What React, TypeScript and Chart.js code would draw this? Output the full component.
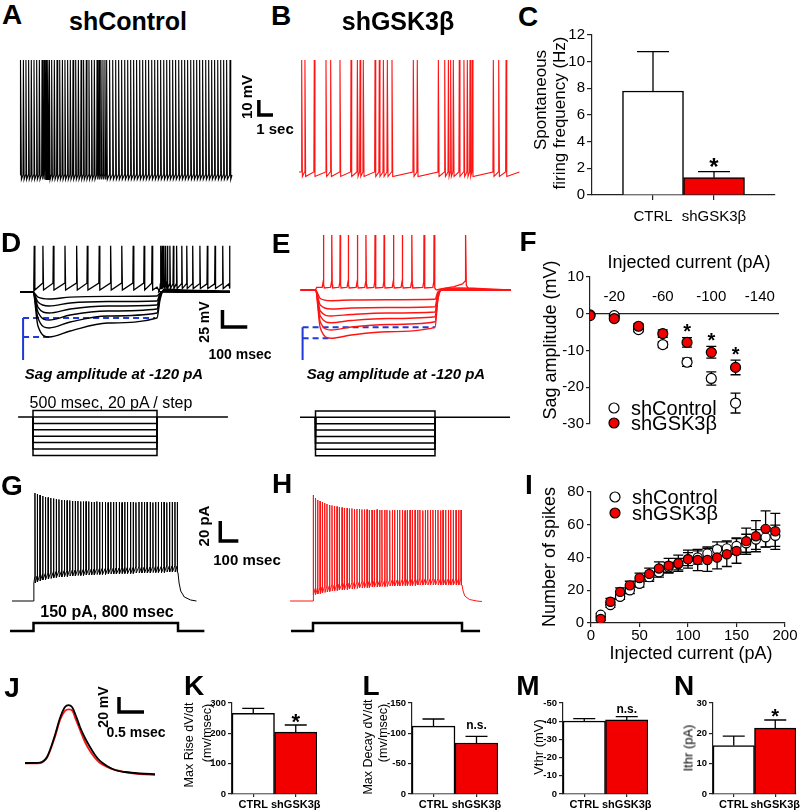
import React, { useEffect, useRef } from 'react';
import { Chart, registerables } from 'chart.js';
Chart.register(...registerables);

const FONT = 'Arial, "Liberation Sans", Helvetica, sans-serif';
Chart.defaults.font.family = FONT;
Chart.defaults.color = '#000';

// ================= DATA =================
const CATS = ['CTRL', 'shGSK3β'];
// C: spontaneous firing frequency (Hz)
const C_VALS = [7.8, 1.3];
const C_ERR = [2.95, 0.45];
// K-N: AP properties
const K_VALS = [266, 204]; const K_ERR = [16.5, 23.5];
const L_VALS = [-112, -84]; const L_ERR = [11.6, 10.9];
const M_VALS = [-40.1, -40.7]; const M_ERR = [1.3, 1.8];
const N_VALS = [16, 21.7]; const N_ERR = [3.1, 2.7];
// F: sag amplitude vs injected current
const F_X = [0, -20, -40, -60, -80, -100, -120];
const F_CTRL = [-0.3, -0.5, -4.3, -8.4, -13.2, -17.6, -24.3];
const F_CTRL_ERR = [null, 0.5, 0.6, 0.8, 1.1, 1.8, 2.7];
const F_GSK = [-0.5, -1.3, -3.4, -5.4, -7.8, -10.5, -14.6];
const F_GSK_ERR = [null, 0.5, 0.7, 1.0, 1.3, 1.6, 2.0];
const F_SIG = [-80, -100, -120];
const F_TICKS = [-20, -60, -100, -140];
// I: number of spikes vs injected current
const I_X = [10, 20, 30, 40, 50, 60, 70, 80, 90, 100, 110, 120, 130, 140, 150, 160, 170, 180, 190];
const I_CTRL = [5, 11, 16, 20, 24, 28, 31, 34, 36, 39, 40, 42.4, 45, 45.6, 47, 48.7, 51, 52.3, 53.3];
const I_CTRL_ERR = [1, 1.5, 1.5, 2, 2, 2.5, 3, 3, 3.5, 4, 4, 4, 4.5, 4.5, 5, 5.5, 6, 6, 6.5];
const I_GSK = [2.5, 13, 19, 23, 27.5, 30, 33.3, 35, 36.5, 39, 38.5, 38.5, 40, 42, 44, 50, 53, 57.5, 56];
const I_GSK_ERR = [1, 2, 2.5, 2.5, 3, 3.5, 4, 4.5, 5, 5.5, 6.5, 7, 7, 7.5, 7.5, 8, 9.5, 11, 11];

// A / B: spontaneous firing (time in s, mV)
const A_SPIKES = [0.05, 0.24, 0.42, 0.61, 0.80, 0.99, 1.18, 1.37, 1.56, 1.70, 1.79, 1.89, 1.98, 2.08, 2.24, 2.43, 2.62, 2.81, 3.00, 3.18, 3.37, 3.56, 3.75, 3.94, 4.13, 4.32, 4.50, 4.69, 4.88, 5.07, 5.26, 5.45, 5.59, 5.73, 5.87, 6.01, 6.13, 6.34, 6.56, 6.77, 6.98, 7.19, 7.41, 7.62, 7.83, 8.04, 8.25, 8.47, 8.68, 8.89, 9.10, 9.32, 9.53, 9.74, 9.95, 10.17, 10.38, 10.59, 10.80, 11.01, 11.23, 11.44, 11.65, 11.86, 12.08, 12.29, 12.50, 12.71, 12.92, 13.14, 13.35, 13.56, 13.77, 13.99, 14.20, 14.41, 14.62, 14.86];
const A_LEVELS = { base: -60, peak: 17, ahp: -63, end: 15.0 };
const B_SPIKES = [0.19, 0.42, 1.08, 1.91, 2.24, 2.90, 3.68, 4.13, 4.32, 4.55, 5.38, 5.68, 5.97, 6.25, 6.58, 8.09, 8.37, 9.86, 10.31, 10.57, 10.73, 10.92, 11.34, 11.67, 11.91, 12.10, 12.26, 13.75, 14.13, 14.65];
const B_LEVELS = { base: -60, peak: 15, ahp: -63, end: 15.59 };

// D / E: hyperpolarizing steps (ms, mV), rows = -20 ... -120 pA
const D_T = [-52, 0, 20, 65, 150, 300, 500, 512, 530, 600, 794];
const D_SWEEPS = [
  [-65, -65, -72.5, -75.3, -72.6, -71.5, -70.9, -66.5, -64.5, -65, -65],
  [-65, -65, -79.7, -85.6, -81.2, -79, -78.2, -67.9, -64.3, -65, -65],
  [-65, -65, -87.1, -95.9, -90, -85.6, -84.1, -69.4, -63.5, -65, -65],
  [-65, -65, -94.4, -106.2, -98.8, -92.9, -90, -70.9, -62.1, -63.5, -65],
  [-65, -65, -103.2, -117.9, -109.1, -100.3, -95.9, -73.8, -62.1, -63.5, -65],
  [-65, -65, -115, -131.2, -122.4, -110.6, -103.2, -76.8, -60.6, -62, -63.5],
];
const D_DEP_SPIKES = [5, 40, 82, 129, 176, 219, 267, 313, 358, 404, 448, 480];
const D_REB_SPIKES = [515, 521, 528, 535, 542, 552, 566, 579, 600, 620, 644, 673, 703, 734, 765, 792];
const E_T = [-62, 0, 20, 65, 150, 300, 500, 512, 530, 600, 817];
const E_SWEEPS = [
  [-65, -65, -77.5, -80.7, -79.7, -79.3, -78.7, -67.9, -65, -65, -65],
  [-65, -65, -87.1, -92.9, -91.5, -90.7, -89.6, -70.9, -65, -65, -65],
  [-65, -65, -95.9, -103.2, -101, -98.8, -97.4, -72.4, -65, -65, -65],
  [-65, -65, -103.2, -113.1, -109.9, -106.9, -104.3, -73.8, -64.3, -64.3, -65],
  [-65, -65, -112.1, -123.8, -119.4, -115.7, -111.6, -76.8, -63.5, -63.5, -65],
  [-65, -65, -120.9, -136, -131.2, -126.3, -119.9, -79.7, -63.5, -62, -65],
];
const E_DEP_SPIKES = [33, 68, 103, 137, 175, 211, 249, 287, 326, 363, 403, 454, 496];
const E_REB = [[505, -65], [530, -63], [580, -60], [615, -56], [626, -52], [628, 16], [631, -58], [640, -63], [680, -65], [817, -65]];
const PROTO_PA = [20, -20, -40, -60, -80, -100, -120];

// G / H: 150 pA, 800 ms step (ms, mV)
const G_SPIKES = [8, 21, 36, 51, 66, 81, 96, 111, 126, 141, 156, 171, 186, 201, 216, 231, 246, 261, 276, 291, 306, 321, 336, 351, 366, 381, 398, 413, 428, 443, 458, 475, 490, 505, 520, 537, 552, 567, 584, 599, 614, 629, 646, 661, 676, 691, 708, 723, 738, 753, 768, 783, 796];
const G_PEAK = [38, 37, 36, 35, 34, 33.5, 33, 32.5, 32, 31.5, 31, 31, 30.5, 30.5, 30, 30, 30, 29.5, 29.5, 29.5, 29.5, 29, 29, 29.5, 29, 29, 29, 28.5, 29, 29, 29, 29, 28.5, 29, 29, 29, 29, 28.5, 29, 29, 29, 29, 29, 28.5, 29, 29, 29, 29, 28.5, 29, 29, 29, 29];
const G_TROUGH = [-52, -51, -50, -49, -48.5, -48, -47.5, -47, -46.5, -46, -46, -45.5, -45.5, -45, -45, -45, -44.5, -44.5, -44.5, -44, -44, -44, -44, -43.5, -43.5, -43.5, -43.5, -43, -43, -43, -43, -43, -42.5, -42.5, -42.5, -42.5, -42.5, -42, -42, -42, -42, -42, -42, -41.5, -41.5, -41.5, -41.5, -41.5, -41, -41, -41, -41, -41];
const G_OFF = [[800, -42], [806, -52], [815, -60], [835, -66], [870, -69], [902, -70]];
const H_SPIKES = [2, 13, 25, 38, 50, 63, 75, 89, 102, 115, 129, 141, 156, 168, 183, 195, 209, 222, 236, 249, 263, 276, 290, 302, 317, 329, 344, 358, 370, 385, 397, 412, 426, 438, 453, 465, 480, 494, 506, 521, 533, 548, 562, 574, 589, 603, 616, 630, 644, 657, 671, 685, 698, 712, 727, 739, 753, 768, 782, 795];
const H_PEAK = [36, 33, 31, 30, 29, 28, 27, 26, 25.5, 25, 24.5, 24, 23.5, 23, 23, 22.5, 22.5, 22, 22, 22, 21.5, 21.5, 21.5, 21, 21, 21, 21.5, 21, 21, 21, 21, 20.5, 21, 21, 21, 21, 21, 20.5, 21, 21, 21, 21, 21, 21, 20.5, 21, 21, 21, 21, 21, 21, 20.5, 21, 21, 21, 21, 21, 21, 21, 21];
const H_TROUGH = [-64, -63.5, -63, -62.5, -62, -61.5, -61, -60.5, -60, -60, -59.5, -59, -59, -58.5, -58.5, -58, -58, -57.5, -57.5, -57, -57, -56.5, -56.5, -56.5, -56, -56, -56, -55.5, -55.5, -55.5, -55.5, -55, -55, -55, -55, -55, -54.5, -54.5, -54.5, -54.5, -54.5, -54.5, -54, -54, -54, -54, -54, -54, -54, -54, -54, -54, -54, -54, -54, -54, -54, -54, -54, -54];
const H_OFF = [[800, -54], [806, -60], [815, -65], [840, -68.5], [880, -70], [907, -70.5]];
const STEP_PA = 150;

// J: AP waveforms (ms, mV)
const J_BLACK = [[0, -60], [0.3, -59.5], [0.37, -57.3], [0.44, -52], [0.5, -42.7], [0.6, -22.7], [0.7, 0], [0.8, 14.7], [0.87, 17.3], [0.94, 14.7], [1.02, 2.7], [1.1, -12], [1.2, -26.7], [1.3, -38.7], [1.4, -49.3], [1.5, -57.3], [1.64, -64], [1.8, -69.3], [2.0, -72], [2.3, -74], [2.6, -74.7]];
const J_RED = [[0, -60.5], [0.3, -60], [0.37, -58], [0.44, -53], [0.5, -44], [0.6, -25], [0.7, -3], [0.8, 9.5], [0.88, 11.6], [0.95, 9.3], [1.02, -2.7], [1.1, -16], [1.2, -32], [1.3, -44], [1.4, -53.3], [1.5, -60], [1.64, -65.3], [1.8, -69.3], [2.0, -72], [2.3, -74.7], [2.6, -76]];

// scale bars (anchor in data units, lengths)
const A_BAR = { t: 16.9, v: -19.8, dt: 1, dv: 10 };
const D_BAR = { t: 764, v: -116.5, dt: 100, dv: 25 };
const G_BAR = { t: 1034, v: -10, dt: 100, dv: 20 };
const J_BAR = { t: 1.88, v: 8, dt: 0.5, dv: 20 };

// ================= STYLE / LAYOUT =================
const RED = '#ff1414';
const RED_BAR = '#f20000';
const BLUE = '#1f3ad8';
const AXIS = '#222';
type Box = { l: number; t: number; w: number; h: number };
const A_BOX: Box = { l: 0, t: 45, w: 300, h: 150 };
const B_BOX: Box = { l: 280, t: 45, w: 260, h: 150 };
const C_BOX: Box = { l: 540, t: 20, w: 260, h: 215 };
const D_BOX: Box = { l: 0, t: 235, w: 290, h: 230 };
const E_BOX: Box = { l: 280, t: 225, w: 260, h: 240 };
const F_BOX: Box = { l: 540, t: 255, w: 260, h: 180 };
const G_BOX: Box = { l: 0, t: 480, w: 280, h: 160 };
const H_BOX: Box = { l: 280, t: 480, w: 270, h: 160 };
const I_BOX: Box = { l: 540, t: 470, w: 260, h: 175 };
const J_BOX: Box = { l: 0, t: 680, w: 180, h: 110 };
const K_BOX: Box = { l: 170, t: 690, w: 170, h: 121 };
const L_BOX: Box = { l: 340, t: 690, w: 180, h: 121 };
const M_BOX: Box = { l: 500, t: 690, w: 170, h: 121 };
const N_BOX: Box = { l: 650, t: 690, w: 160, h: 121 };

const hRange = (v1: number, p1: number, v2: number, p2: number, b: Box) => {
  const k = (p2 - p1) / (v2 - v1); const min = v1 - (p1 - b.l) / k; return { min, max: min + b.w / k };
};
const vRange = (v1: number, p1: number, v2: number, p2: number, b: Box) => {
  const k = (p1 - p2) / (v2 - v1); const max = v1 + (p1 - b.t) / k; return { min: max - b.h / k, max };
};
const P = (x: number, y: number) => ({ x, y });
const line = (pts: any[], color: string, width: number, extra: any = {}) => ({
  data: pts, borderColor: color, borderWidth: width, pointRadius: 0, fill: false, tension: 0, ...extra,
});
const scaleBar = (b: any) => line([P(b.t, b.v + b.dv), P(b.t, b.v), P(b.t + b.dt, b.v)], '#000', 3.5, { borderJoinStyle: 'miter', borderCapStyle: 'butt' });

const baseOpts = { responsive: false, animation: false, events: [], plugins: { legend: { display: false }, tooltip: { enabled: false } } };

function traceCfg(xr: any, ys: Record<string, any>, datasets: any[]) {
  const scales: any = { x: { type: 'linear', display: false, ...xr } };
  Object.keys(ys).forEach((k) => { scales[k] = { type: 'linear', display: false, ...ys[k] }; });
  return { type: 'line', data: { datasets }, options: { ...baseOpts, layout: { padding: 0 }, scales } };
}

function errPlugin(errs: any[], phase: string, cap: number, both: boolean, width = 1.3) {
  const draw = (chart: any) => {
    const ctx = chart.ctx; ctx.save(); ctx.strokeStyle = '#000'; ctx.lineWidth = width;
    chart.data.datasets.forEach((ds: any, i: number) => {
      const e = errs[i]; if (!e) return;
      const meta = chart.getDatasetMeta(i); const ys = chart.scales[meta.yAxisID];
      meta.data.forEach((el: any, j: number) => {
        const er = e[j]; if (er == null) return;
        const v = ds.data[j].y; const dir = both ? 1 : (v < 0 ? -1 : 1);
        const hi = ys.getPixelForValue(v + dir * er); const lo = ys.getPixelForValue(both ? v - er : v);
        ctx.beginPath(); ctx.moveTo(el.x, lo); ctx.lineTo(el.x, hi);
        ctx.moveTo(el.x - cap, hi); ctx.lineTo(el.x + cap, hi);
        if (both) { ctx.moveTo(el.x - cap, lo); ctx.lineTo(el.x + cap, lo); }
        ctx.stroke();
      });
    });
    ctx.restore();
  };
  return phase === 'before' ? { id: 'errB', beforeDatasetsDraw: draw } : { id: 'errA', afterDatasetsDraw: draw };
}

function notePlugin(items: any[], font: string) {
  return {
    id: 'notes',
    afterDatasetsDraw(chart: any) {
      const ctx = chart.ctx; ctx.save(); ctx.font = font; ctx.fillStyle = '#000'; ctx.textAlign = 'center'; ctx.textBaseline = 'alphabetic';
      items.forEach((it) => ctx.fillText(it.text, chart.scales.x.getPixelForValue(it.x), chart.scales.y.getPixelForValue(it.y) + it.dy));
      ctx.restore();
    },
  };
}

function dotLegend(pos: any[], font: string, r: number) {
  return {
    id: 'dotLegend',
    afterDraw(chart: any) {
      const ctx = chart.ctx; ctx.save(); ctx.font = font; ctx.textBaseline = 'middle'; ctx.textAlign = 'left';
      chart.data.datasets.forEach((ds: any, i: number) => {
        const p = pos[i]; if (!p) return;
        ctx.beginPath(); ctx.arc(p.x, p.y, r, 0, Math.PI * 2);
        ctx.fillStyle = ds.pointBackgroundColor; ctx.fill();
        ctx.lineWidth = ds.pointBorderWidth; ctx.strokeStyle = ds.pointBorderColor; ctx.stroke();
        ctx.fillStyle = '#000'; ctx.fillText(ds.label, p.x + 17, p.y + 1);
      });
      ctx.restore();
    },
  };
}

function frame(b: Box, a: any) {
  return { padding: { left: 0, top: a.t - b.t, right: b.l + b.w - a.r, bottom: 0 }, yw: a.l - b.l, xh: b.t + b.h - a.b };
}

function barCfg(b: Box, a: any, o: any) {
  const f = frame(b, a);
  return {
    type: 'bar',
    data: { datasets: [{ data: o.vals.map((v: number, i: number) => ({ x: i + 1, y: v })), backgroundColor: ['#ffffff', RED_BAR], borderColor: '#000', borderWidth: o.bw, barPercentage: 1, categoryPercentage: 1 }] },
    options: {
      ...baseOpts,
      layout: { padding: f.padding },
      scales: {
        x: {
          type: 'linear', min: o.xmin, max: o.xmax, offset: false,
          afterBuildTicks: (s: any) => { s.ticks = o.cats.map((_: any, i: number) => ({ value: i + 1 })); },
          afterFit: (s: any) => { s.height = f.xh; },
          ticks: { callback: (v: number) => o.cats[v - 1], font: o.catFont, padding: o.xpad, maxRotation: 0, autoSkip: false, color: '#000' },
          grid: { offset: false, drawOnChartArea: false, tickLength: o.xtl, color: AXIS, lineWidth: 1.2 },
          border: { color: AXIS, width: o.aw },
        },
        y: {
          type: 'linear', min: o.ymin, max: o.ymax, reverse: !!o.reverse,
          afterFit: (s: any) => { s.width = f.yw; },
          ticks: { stepSize: o.step, font: o.tickFont, padding: o.ypad, color: '#000' },
          grid: { drawOnChartArea: false, tickLength: o.ytl, color: AXIS, lineWidth: 1.2 },
          border: { color: AXIS, width: o.aw },
        },
      },
    },
    plugins: [errPlugin([o.errs], 'after', o.cap, false), notePlugin(o.notes || [], o.noteFont || '')],
  };
}

const smallBar = (vals: number[], errs: number[], extra: any) => ({
  cats: CATS, vals, errs, xmin: 0.5, xmax: 2.5, tickFont: { size: 9.5, weight: 'bold' }, catFont: { size: 11, weight: 'bold' },
  xpad: 1, xtl: 3, ytl: 4, ypad: 2, aw: 1.2, bw: 1.5, cap: 11, ...extra,
});

// ================= CHART FACTORIES =================
const makeA = () => {
  const pts = [P(0, A_LEVELS.base)];
  A_SPIKES.forEach((t) => pts.push(P(t - 0.03, A_LEVELS.base), P(t, A_LEVELS.peak), P(t + 0.05, A_LEVELS.ahp)));
  pts.push(P(A_LEVELS.end, A_LEVELS.base));
  return traceCfg(hRange(0, 20, 15, 232, A_BOX), { y: vRange(-60, 175, 17, 60, A_BOX) }, [line(pts, '#000', 1.1), scaleBar(A_BAR)]);
};
const makeB = () => {
  const pts = [P(0, B_LEVELS.base)];
  B_SPIKES.forEach((t) => pts.push(P(t - 0.03, B_LEVELS.base), P(t, B_LEVELS.peak), P(t + 0.05, B_LEVELS.ahp)));
  pts.push(P(B_LEVELS.end, B_LEVELS.base));
  return traceCfg(hRange(0, 299, 15, 511, B_BOX), { y: vRange(-60, 172, 17, 57, B_BOX) }, [line(pts, RED, 1.1)]);
};

function stepTraces(T: number[], sweeps: number[][], color: string, dep: any[], extra: any[], tStart: number, tEnd: number, blueT: number, blueLow: number, blueEnd: number, bar: any) {
  const ds: any[] = [];
  ds.push(line([P(tStart, 0), P(tEnd, 0)], '#000', 1.5, { yAxisID: 'p' }));
  PROTO_PA.forEach((L) => ds.push(line([P(0, 0), P(0, L), P(500, L), P(500, 0)], '#000', 1.5, { yAxisID: 'p' })));
  sweeps.forEach((row) => ds.push(line(T.map((t, i) => P(t, row[i])), color, 1.4, { cubicInterpolationMode: 'monotone' })));
  ds.push(line(dep, color, 1.3));
  extra.forEach((e) => ds.push(line(e, color, 1.3)));
  const last = sweeps[sweeps.length - 1];
  const ss = last[6]; const pk = last[3];
  ds.push(line([P(blueT, ss), P(blueT, blueLow)], BLUE, 2));
  ds.push(line([P(blueT, ss), P(blueEnd, ss)], BLUE, 2, { borderDash: [6, 4] }));
  ds.push(line([P(blueT, pk), P(T[3] + 5, pk)], BLUE, 2, { borderDash: [6, 4] }));
  if (bar) ds.push(scaleBar(bar));
  return ds;
}

const makeD = () => {
  const dep = [P(-52, -65), P(0, -65), P(3, -56)];
  D_DEP_SPIKES.forEach((t) => dep.push(P(t - 1.5, -52), P(t, 3), P(t + 2.5, -62)));
  dep.push(P(500, -58), P(510, -64), P(530, -65), P(794, -65));
  const reb = [P(505, -66), P(512, -60)];
  D_REB_SPIKES.forEach((t) => reb.push(P(t - 1.5, -53), P(t, 3), P(t + 2, -60)));
  reb.push(P(794, -60));
  return traceCfg(hRange(0, 33, 500, 157, D_BOX), { y: vRange(-65, 292, -40, 275, D_BOX), p: vRange(0, 417, 20, 410.6, D_BOX) },
    stepTraces(D_T, D_SWEEPS, '#000', dep, [reb], -60, 786, -40, -165, 492, D_BAR));
};
const makeE = () => {
  const dep = [P(-62, -65), P(0, -65), P(5, -61)];
  E_DEP_SPIKES.forEach((t) => dep.push(P(t - 5, -61), P(t - 1, -53), P(t, 16), P(t + 2, -57), P(t + 4, -62)));
  dep.push(P(505, -65));
  const reb = E_REB.map(([t, v]) => P(t, v));
  return traceCfg(hRange(0, 315.5, 500, 435, E_BOX), { y: vRange(-65, 290, -40, 273, E_BOX), p: vRange(0, 417.3, 20, 410.9, E_BOX) },
    stepTraces(E_T, E_SWEEPS, RED, dep, [reb], -65, 814, -54, -168, 500, null));
};

function longStep(spikes: number[], peaks: number[], troughs: number[], off: number[][], color: string, t0: number, tp0: number, tp1: number) {
  const pts = [P(t0, -70), P(0, -70), P(2, troughs[0])];
  spikes.forEach((t, i) => pts.push(P(t - 1, troughs[i] + 6), P(t, peaks[i]), P(t + 1.5, troughs[i])));
  off.forEach(([t, v]) => pts.push(P(t, v)));
  const proto = [P(tp0, 0), P(0, 0), P(0, STEP_PA), P(800, STEP_PA), P(800, 0), P(tp1, 0)];
  return [line(pts, color, 1), line(proto, '#000', 2.5, { yAxisID: 'p', borderJoinStyle: 'miter' })];
}
const makeG = () => traceCfg(hRange(0, 33.5, 800, 178, G_BOX), { y: vRange(-70, 601, 30, 501, G_BOX), p: vRange(0, 631, 150, 623, G_BOX) },
  [...longStep(G_SPIKES, G_PEAK, G_TROUGH, G_OFF, '#000', -119, -130, 946), scaleBar(G_BAR)]);
const makeH = () => traceCfg(hRange(0, 313, 800, 462, H_BOX), { y: vRange(-70, 601, 30, 501, H_BOX), p: vRange(0, 631, 150, 623, H_BOX) },
  longStep(H_SPIKES, H_PEAK, H_TROUGH, H_OFF, RED, -123, -118, 897));
const makeJ = () => traceCfg(hRange(0, 25, 1, 75, J_BOX), { y: vRange(-60, 763, 20, 703, J_BOX) }, [
  line(J_BLACK.map(([t, v]) => P(t, v)), '#000', 1.8, { cubicInterpolationMode: 'monotone' }),
  line(J_RED.map(([t, v]) => P(t, v)), RED, 1.8, { cubicInterpolationMode: 'monotone' }),
  scaleBar(J_BAR),
]);

const makeC = () => barCfg(C_BOX, { l: 592, t: 35, r: 775, b: 195 }, {
  cats: CATS, vals: C_VALS, errs: C_ERR, ymin: 0, ymax: 12, step: 2, xmin: 0, xmax: 3,
  tickFont: { size: 15 }, catFont: { size: 15 }, xpad: 8, xtl: 5, ytl: 5, ypad: 2, aw: 1.2, bw: 1.5, cap: 16,
  notes: [{ x: 2, y: C_VALS[1] + C_ERR[1], text: '*', dy: 3.5 }], noteFont: 'bold 24px ' + FONT,
});
const makeK = () => barCfg(K_BOX, { l: 232, t: 703, r: 317, b: 794 }, smallBar(K_VALS, K_ERR, {
  ymin: 0, ymax: 300, step: 100, notes: [{ x: 2, y: K_VALS[1] + K_ERR[1], text: '*', dy: 4 }], noteFont: 'bold 22px ' + FONT,
}));
const makeL = () => barCfg(L_BOX, { l: 412, t: 703, r: 498, b: 794 }, smallBar(L_VALS, L_ERR, {
  ymin: -150, ymax: 0, step: 50, reverse: true, notes: [{ x: 2, y: L_VALS[1] - L_ERR[1], text: 'n.s.', dy: -7 }], noteFont: 'bold 12px ' + FONT,
}));
const makeM = () => barCfg(M_BOX, { l: 563, t: 703, r: 648, b: 794 }, smallBar(M_VALS, M_ERR, {
  ymin: -50, ymax: 0, step: 10, reverse: true, notes: [{ x: 2, y: M_VALS[1] - M_ERR[1], text: 'n.s.', dy: -4 }], noteFont: 'bold 12px ' + FONT,
}));
const makeN = () => barCfg(N_BOX, { l: 713, t: 703, r: 796, b: 794 }, smallBar(N_VALS, N_ERR, {
  ymin: 0, ymax: 30, step: 10, notes: [{ x: 2, y: N_VALS[1] + N_ERR[1], text: '*', dy: 3 }], noteFont: 'bold 20px ' + FONT,
}));

const ptStyle = (fill: string, r: number) => ({ pointBackgroundColor: fill, pointBorderColor: '#000', pointBorderWidth: 1.2, pointRadius: r, showLine: false });

const makeF = () => {
  const b = F_BOX; const a = { l: 590, t: 277, r: 778, b: 424 };
  const f = frame(b, a);
  return {
    type: 'scatter',
    data: {
      datasets: [
        { label: 'shControl', data: F_X.map((x, i) => P(x, F_CTRL[i])), order: 1, ...ptStyle('#ffffff', 5) },
        { label: 'shGSK3β', data: F_X.map((x, i) => P(x, F_GSK[i])), order: 0, ...ptStyle(RED_BAR, 5) },
      ],
    },
    options: {
      ...baseOpts,
      layout: { padding: { ...f.padding, bottom: b.t + b.h - a.b } },
      scales: {
        x: {
          type: 'linear', min: -155, max: 0, reverse: true, position: { y: 0 },
          afterBuildTicks: (s: any) => { s.ticks = F_TICKS.map((v) => ({ value: v })); },
          afterFit: (s: any) => { s.height = 0; },
          ticks: { font: { size: 15 }, padding: -26, color: '#000' },
          grid: { drawOnChartArea: false, drawTicks: false }, border: { color: AXIS, width: 1.2 },
        },
        y: {
          type: 'linear', min: -30, max: 10, afterFit: (s: any) => { s.width = f.yw; },
          ticks: { stepSize: 10, font: { size: 15 }, padding: 2, color: '#000' },
          grid: { drawOnChartArea: false, tickLength: 4, color: AXIS, lineWidth: 1.2 }, border: { color: AXIS, width: 1.2 },
        },
      },
    },
    plugins: [
      errPlugin([F_CTRL_ERR, F_GSK_ERR], 'before', 5, true),
      notePlugin(F_SIG.map((x) => { const i = F_X.indexOf(x); return { x, y: F_GSK[i] + F_GSK_ERR[i], text: '*', dy: 0.5 }; }), 'bold 20px ' + FONT),
      dotLegend([{ x: 614 - b.l, y: 408 - b.t }, { x: 614 - b.l, y: 423 - b.t }], '20px ' + FONT, 5),
    ],
  };
};

const makeI = () => {
  const b = I_BOX; const a = { l: 591, t: 492, r: 785, b: 623 };
  const f = frame(b, a);
  return {
    type: 'scatter',
    data: {
      datasets: [
        { label: 'shControl', data: I_X.map((x, i) => P(x, I_CTRL[i])), order: 1, ...ptStyle('#ffffff', 4.6) },
        { label: 'shGSK3β', data: I_X.map((x, i) => P(x, I_GSK[i])), order: 0, ...ptStyle(RED_BAR, 4.6) },
      ],
    },
    options: {
      ...baseOpts,
      layout: { padding: f.padding },
      scales: {
        x: {
          type: 'linear', min: 0, max: 200, afterFit: (s: any) => { s.height = f.xh; },
          ticks: { stepSize: 50, font: { size: 15 }, padding: 0, color: '#000', maxRotation: 0 },
          grid: { drawOnChartArea: false, tickLength: 4, color: AXIS, lineWidth: 1.2 }, border: { color: AXIS, width: 1.2 },
        },
        y: {
          type: 'linear', min: 0, max: 80, afterFit: (s: any) => { s.width = f.yw; },
          ticks: { stepSize: 20, font: { size: 15 }, padding: 3, color: '#000' },
          grid: { drawOnChartArea: false, tickLength: 4, color: AXIS, lineWidth: 1.2 }, border: { color: AXIS, width: 1.2 },
        },
      },
    },
    plugins: [
      errPlugin([I_CTRL_ERR, I_GSK_ERR], 'before', 5, true),
      dotLegend([{ x: 615 - b.l, y: 497 - b.t }, { x: 615 - b.l, y: 513 - b.t }], '20px ' + FONT, 5),
    ],
  };
};

// ================= COMPONENTS =================
function Plot({ box, make }: { box: Box; make: () => any }) {
  const ref = useRef<HTMLCanvasElement>(null);
  useEffect(() => {
    const chart = new Chart(ref.current as HTMLCanvasElement, make() as any);
    return () => chart.destroy();
  }, []);
  return <canvas ref={ref} width={box.w} height={box.h} style={{ position: 'absolute', left: box.l, top: box.t, width: box.w, height: box.h }} />;
}

function T({ x, y, s, size, bold = false, it = false, rot = false }: any) {
  return (
    <div style={{
      position: 'absolute', left: x, top: y, transform: `translate(-50%,-50%)${rot ? ' rotate(-90deg)' : ''}`,
      fontSize: size, fontWeight: bold ? 700 : 400, fontStyle: it ? 'italic' : 'normal', fontFamily: FONT,
      lineHeight: 1, whiteSpace: 'nowrap', color: '#000',
    }}>{s}</div>
  );
}

const LETTERS: [string, number, number][] = [
  ['A', 12, 15], ['B', 281, 16], ['C', 528, 17], ['D', 11, 243], ['E', 281, 244], ['F', 528, 242], ['G', 12, 486],
  ['H', 282, 484], ['I', 529, 485], ['J', 12, 688], ['K', 194, 686], ['L', 371, 686], ['M', 528, 686], ['N', 684, 686],
];

export default function App() {
  useEffect(() => { document.body.style.margin = '0'; }, []);
  return (
    <div style={{ position: 'absolute', left: 0, top: 0, width: 800, height: 811, overflow: 'hidden', background: '#fff' }}>
      <Plot box={A_BOX} make={makeA} />
      <Plot box={B_BOX} make={makeB} />
      <Plot box={C_BOX} make={makeC} />
      <Plot box={D_BOX} make={makeD} />
      <Plot box={E_BOX} make={makeE} />
      <Plot box={F_BOX} make={makeF} />
      <Plot box={G_BOX} make={makeG} />
      <Plot box={H_BOX} make={makeH} />
      <Plot box={I_BOX} make={makeI} />
      <Plot box={J_BOX} make={makeJ} />
      <Plot box={K_BOX} make={makeK} />
      <Plot box={L_BOX} make={makeL} />
      <Plot box={M_BOX} make={makeM} />
      <Plot box={N_BOX} make={makeN} />
      {LETTERS.map(([s, x, y]) => <T key={s} x={x} y={y} s={s} size={28} bold />)}
      <T x={128} y={21} s="shControl" size={25} bold />
      <T x={398} y={21} s="shGSK3β" size={25} bold />
      <T x={246} y={97} s="10 mV" size={15} bold rot />
      <T x={275} y={128} s="1 sec" size={15} bold />
      <T x={540} y={100} s="Spontaneous" size={17} rot />
      <T x={559} y={113} s="firing frequency (Hz)" size={17} rot />
      <T x={204} y={322} s="25 mV" size={14} bold rot />
      <T x={240} y={354} s="100 msec" size={14} bold />
      <T x={114} y={373} s="Sag amplitude at -120 pA" size={15} bold it />
      <T x={396} y={373} s="Sag amplitude at -120 pA" size={15} bold it />
      <T x={111} y={403} s="500 msec, 20 pA / step" size={16} />
      <T x={689} y={262} s="Injected current (pA)" size={18} />
      <T x={550} y={340} s="Sag amplitude (mV)" size={18} rot />
      <T x={203} y={526} s="20 pA" size={15} bold rot />
      <T x={247} y={559} s="100 msec" size={15} bold />
      <T x={107} y={612} s="150 pA, 800 msec" size={16} bold />
      <T x={549} y={557} s="Number of spikes" size={18} rot />
      <T x={691} y={653} s="Injected current (pA)" size={18} />
      <T x={103} y={707} s="20 mV" size={14} bold rot />
      <T x={136} y={732} s="0.5 msec" size={14} bold />
      <T x={189} y={745} s="Max Rise dV/dt" size={12.5} rot />
      <T x={207} y={733} s="(mv/msec)" size={12.5} rot />
      <T x={368} y={747} s="Max Decay dV/dt" size={12.5} rot />
      <T x={383} y={733} s="(mv/msec)" size={12.5} rot />
      <T x={538} y={747} s="Vthr (mV)" size={13} rot />
      <T x={688} y={748} s="Ithr (pA)" size={13} rot />
    </div>
  );
}
